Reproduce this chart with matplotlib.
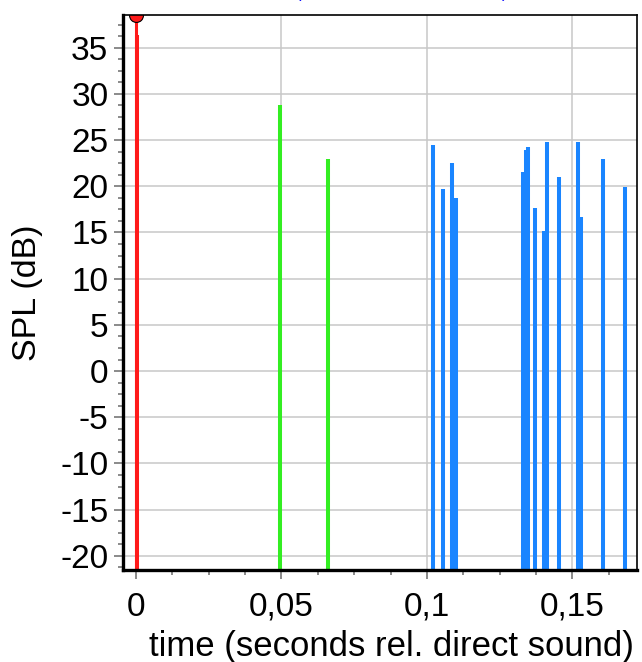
import matplotlib.pyplot as plt
from matplotlib.ticker import MultipleLocator, FuncFormatter

# direct sound (red), first reflections (green), later reflections (blue)
direct_t = [0.0, 0.0004]
direct_spl = [38.6, 36.4]

early_t = [0.0495, 0.0660]
early_spl = [28.8, 22.9]

late_t = [0.1022, 0.1054, 0.1085, 0.1099, 0.1329, 0.1340, 0.1349, 0.1373,
          0.1403, 0.1411, 0.1455, 0.1518, 0.1530, 0.1605, 0.1680]
late_spl = [24.5, 19.7, 22.5, 18.7, 21.5, 23.9, 24.2, 17.7,
            15.2, 24.8, 21.0, 24.8, 16.7, 22.9, 19.9]

x_ticks = [0, 0.05, 0.1, 0.15]
y_ticks = list(range(-20, 36, 5))

plt.rcParams['font.family'] = ['Liberation Sans', 'DejaVu Sans']
plt.rcParams['axes.unicode_minus'] = False

fig = plt.figure(figsize=(6.42, 6.62), dpi=100)
ax = fig.add_axes([0.1916, 0.139, 0.8006, 0.8384])

ymin, ymax = -21.53, 38.54
ax.set_xlim(-0.00447, 0.1722)
ax.set_ylim(ymin, ymax)

# grid
ax.grid(True, which='major', color='#c8c8c8', linewidth=1.1)
ax.set_axisbelow(True)

lw = 2.9
ax.vlines(direct_t[0], ymin, direct_spl[0], color='#ff1a1a', linewidth=2.2, zorder=3)
ax.vlines(direct_t[1], ymin, direct_spl[1], color='#ff1a1a', linewidth=lw, zorder=3)
ax.plot([direct_t[0]], [ymax], 'o', color='#ff1a1a', markersize=10,
        markeredgecolor='black', markeredgewidth=0.8, zorder=4)
ax.vlines(early_t, ymin, early_spl, color='#33ee22', linewidth=lw, zorder=3)
ax.vlines(late_t, ymin, late_spl, color='#1a85ff', linewidth=lw, zorder=3)

# ticks
ax.set_xticks(x_ticks)
ax.set_yticks(y_ticks)
ax.xaxis.set_minor_locator(MultipleLocator(0.0125))
ax.yaxis.set_minor_locator(MultipleLocator(1.25))
ax.xaxis.set_major_formatter(FuncFormatter(lambda v, p: ('%g' % v).replace('.', ',')))
ax.tick_params(axis='both', which='major', length=6.5, width=1.2, color='#777777',
               labelsize=24, direction='out')
ax.tick_params(axis='both', which='minor', length=3.5, width=1.2, color='#777777',
               direction='out')
ax.tick_params(axis='x', which='major', pad=9)
ax.tick_params(axis='y', which='major', pad=4)

# spines
ax.spines['left'].set_linewidth(2.4)
ax.spines['bottom'].set_linewidth(2.4)
ax.spines['top'].set_linewidth(1.2)
ax.spines['right'].set_linewidth(1.2)
for s in ax.spines.values():
    s.set_color('black')
    s.set_zorder(5)

ax.set_xlabel('time (seconds rel. direct sound)', fontsize=25)
ax.xaxis.set_label_coords(0.522, -0.109)
ax.set_ylabel('SPL (dB)', fontsize=24.5)
ax.yaxis.set_label_coords(-0.155, 0.5)

# bits of a cut-off title above the plot
fig.text(299 / 642, 1 + 2 / 662, '(', color='blue', fontsize=12, ha='center', va='baseline')
fig.text(505 / 642, 1 + 2 / 662, ')', color='blue', fontsize=12, ha='center', va='baseline')

fig.savefig('out.png', dpi=100)
